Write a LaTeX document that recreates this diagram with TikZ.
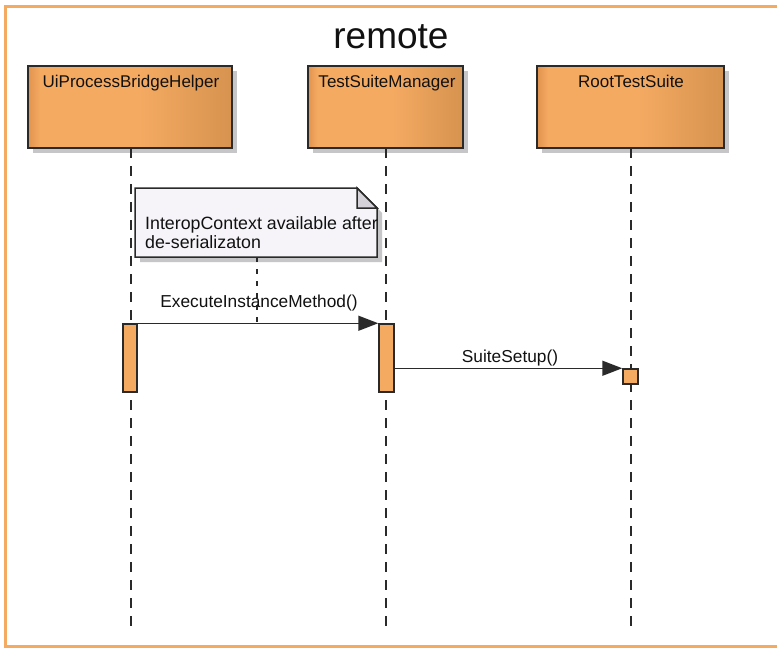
\documentclass[tikz,border=0pt]{standalone}
\usepackage{fontspec}
\setmainfont{Liberation Sans}
\usetikzlibrary{arrows.meta,shadows}

\definecolor{frameorange}{HTML}{F5AA62}
\definecolor{boxmain}{HTML}{F5AA62}
\definecolor{boxleft}{HTML}{E0934E}
\definecolor{boxright}{HTML}{D6934F}
\definecolor{shadowgray}{HTML}{C6C6C8}
\definecolor{notefill}{HTML}{F6F4F8}
\definecolor{notefold}{HTML}{D5D3D9}
\definecolor{edge}{HTML}{2A2A2A}
\definecolor{ink}{HTML}{111111}

% lifeline header fill: darker strip on the left, flat middle, darker right side
\pgfdeclarehorizontalshading{lifeboxshade}{100bp}{%
  color(0bp)=(boxleft); color(25bp)=(boxleft); color(28bp)=(boxmain);
  color(52bp)=(boxmain); color(75bp)=(boxright); color(100bp)=(boxright)}

\tikzset{
  lifebox/.style={draw=edge, line width=1.5pt, shading=lifeboxshade,
    inner sep=0pt, minimum height=82pt,
    general shadow={fill=shadowgray, shadow xshift=5pt, shadow yshift=-5pt}},
  boxtitle/.style={inner sep=0pt, anchor=base, text=ink,
    font=\fontsize{17pt}{20pt}\selectfont},
  lifeline/.style={draw=edge, line width=1.5pt, dash pattern=on 10pt off 8pt},
  activation/.style={draw=edge, line width=1.5pt, fill=boxmain, inner sep=0pt},
  msg/.style={draw=edge, line width=1.5pt, -{Triangle[length=20pt,width=15pt]}},
  msglabel/.style={inner sep=0pt, anchor=base, text=ink,
    font=\fontsize{17.3pt}{20pt}\selectfont},
  notebody/.style={draw=edge, line width=1.5pt, fill=notefill,
    general shadow={fill=shadowgray, shadow xshift=5pt, shadow yshift=-5pt}},
  notefoldstyle/.style={draw=edge, line width=1.5pt, fill=notefold, line join=miter},
  notetext/.style={inner sep=0pt, anchor=base west, text=ink,
    font=\fontsize{17.8pt}{20pt}\selectfont},
  notelinkstyle/.style={draw=edge, line width=1.5pt, dash pattern=on 5pt off 7pt},
}

\begin{document}
\begin{tikzpicture}[x=1pt, y=-1pt]
  \path[use as bounding box, clip] (0,0) rectangle (777,648);
  \fill[white] (0,0) rectangle (777,648);

  % frame of the "remote" package
  \draw[frameorange, line width=3pt] (790,6.5) -- (5.5,6.5) -- (5.5,646) -- (790,646);
  \node[inner sep=0pt, anchor=base, text=ink, font=\fontsize{37pt}{40pt}\selectfont]
    (title) at (391,48) {remote};

  % lifeline headers
  \node[lifebox, minimum width=204pt] (uipb) at (130,107) {};
  \node[lifebox, minimum width=155pt] (tsm)  at (385.5,107) {};
  \node[lifebox, minimum width=187pt] (rts)  at (630.5,107) {};
  \node[boxtitle] (uipbtitle) at (131,87) {UiProcessBridgeHelper};
  \node[boxtitle] (tsmtitle)  at (387,87) {TestSuiteManager};
  \node[boxtitle] (rtstitle)  at (631,87) {RootTestSuite};

  % lifelines
  \coordinate (bottomline) at (0,628);
  \coordinate (uipbtop) at (131,148);
  \coordinate (tsmtop)  at (386,148);
  \coordinate (rtstop)  at (631,148);
  \draw[lifeline] (uipbtop) -- (uipbtop |- bottomline);
  \draw[lifeline] (tsmtop)  -- (tsmtop |- bottomline);
  \draw[lifeline] (rtstop)  -- (rtstop |- bottomline);

  % note with folded corner
  \path[notebody] (135,188) -- (357,188) -- (377,208) -- (377,257) -- (135,257) -- cycle;
  \path[notefoldstyle] (357,188) -- (357,208) -- (377,208) -- cycle;
  \node[notetext] (noteline1) at (145,229) {InteropContext available after};
  \node[notetext] (noteline2) at (145,248) {de-serializaton};
  \coordinate (notebottom) at (257,257);
  \coordinate (noteanchor) at (257,322);
  \draw[notelinkstyle] (notebottom) -- (noteanchor);

  % activations
  \node[activation, minimum width=14pt, minimum height=68pt] (act1) at (130,358) {};
  \node[activation, minimum width=15pt, minimum height=68pt] (act2) at (386.5,358) {};
  \node[activation, minimum width=15pt, minimum height=15pt] (act3) at (630.5,376.5) {};

  % messages
  \draw[msg] (act1.north east) -- (act2.north west);
  \node[msglabel] (msg1) at (259,307) {ExecuteInstanceMethod()};
  \draw[msg] (act2.east |- act3.north) -- (act3.north west);
  \node[msglabel] (msg2) at (510,362) {SuiteSetup()};
\end{tikzpicture}
\end{document}
